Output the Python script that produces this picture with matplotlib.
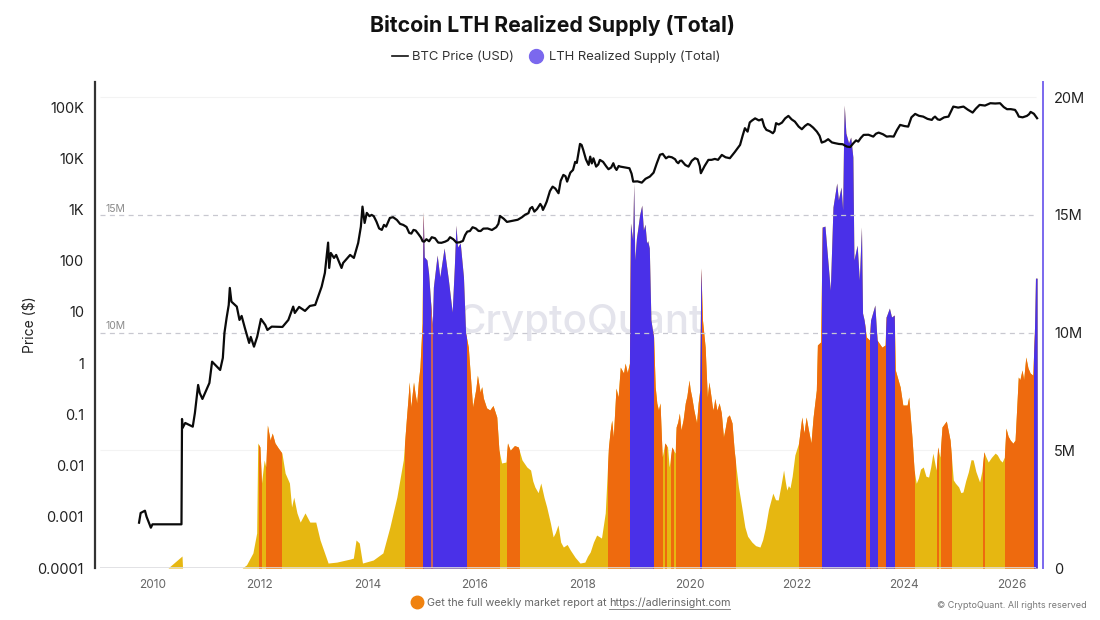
import matplotlib
matplotlib.use("Agg")
import matplotlib.pyplot as plt
from matplotlib.lines import Line2D
from matplotlib.patches import Rectangle
import numpy as np

plt.rcParams['font.family'] = ['Inter', 'DejaVu Sans']

# ---------- data ----------
price_dates = [2009.75,2009.78,2009.86,2009.89,2009.97,2010.00,2010.54,2010.55,2010.56,2010.61,2010.75,2010.79,2010.85,2010.88,2010.93,
2011.06,2011.11,2011.26,2011.31,2011.34,2011.38,2011.42,2011.44,2011.47,2011.57,2011.62,2011.66,2011.72,2011.80,2011.83,2011.89,2011.95,
2012.02,2012.10,2012.14,2012.22,2012.42,2012.53,2012.62,2012.65,2012.73,2012.84,2012.93,2013.03,2013.15,2013.21,2013.27,2013.29,2013.32,
2013.38,2013.42,2013.52,2013.55,2013.68,2013.75,2013.83,2013.88,2013.91,2013.95,2013.99,2014.08,2014.17,2014.27,2014.35,2014.42,2014.55,
2014.67,2014.78,2014.86,2014.95,2015.06,2015.20,2015.32,2015.45,2015.54,2015.66,2015.78,2015.86,2015.96,2016.07,2016.16,2016.40,2016.47,
2016.60,2016.72,2016.88,2017.00,2017.03,2017.11,2017.22,2017.27,2017.34,2017.45,2017.56,2017.65,2017.72,2017.83,2017.90,2017.96,2018.02,
2018.12,2018.15,2018.26,2018.33,2018.49,2018.58,2018.64,2018.71,2018.88,2018.95,2019.11,2019.26,2019.39,2019.50,2019.61,2019.73,2019.79,
2019.85,2019.98,2020.10,2020.21,2020.35,2020.47,2020.60,2020.75,2020.94,2021.03,2021.08,2021.16,2021.35,2021.43,2021.55,2021.61,2021.72,
2021.84,2021.96,2022.09,2022.15,2022.24,2022.37,2022.46,2022.58,2022.71,2022.85,2022.93,2023.05,2023.14,2023.24,2023.42,2023.52,2023.67,
2023.80,2023.92,2024.07,2024.20,2024.35,2024.51,2024.57,2024.66,2024.82,2024.91,2025.10,2025.27,2025.40,2025.60,2025.78,2025.91,2026.06,
2026.13,2026.28,2026.35,2026.47]
price_log10 = [-3.115,-2.926,-2.881,-2.998,-3.213,-3.147,-3.147,-1.090,-1.266,-1.168,-1.240,-0.973,-0.426,-0.582,-0.699,
-0.387,0.029,-0.133,0.102,0.590,0.883,1.137,1.469,1.201,1.104,0.844,0.922,0.688,0.395,0.512,0.322,0.518,
0.863,0.746,0.648,0.713,0.707,0.844,1.104,0.980,1.098,1.020,1.117,1.137,1.494,1.762,2.354,1.859,2.152,
2.055,2.113,1.859,1.957,2.113,2.055,2.348,2.666,3.057,2.738,2.934,2.895,2.764,2.602,2.666,2.836,2.797,
2.699,2.543,2.602,2.523,2.373,2.459,2.354,2.373,2.459,2.354,2.387,2.568,2.654,2.582,2.627,2.654,2.875,
2.758,2.783,2.850,2.928,3.018,2.959,3.109,2.992,3.154,3.447,3.318,3.676,3.545,3.773,3.910,4.281,4.164,
3.871,4.033,3.838,3.969,3.787,3.904,3.773,3.838,3.806,3.545,3.525,3.643,3.904,4.086,4.033,3.982,3.904,
3.955,3.838,4.002,3.709,3.969,3.988,4.066,4.002,4.262,4.588,4.521,4.736,4.764,4.555,4.490,4.686,4.697,
4.828,4.717,4.568,4.633,4.652,4.521,4.307,4.373,4.295,4.275,4.229,4.295,4.326,4.457,4.424,4.502,4.424,
4.424,4.652,4.619,4.867,4.814,4.750,4.814,4.750,4.814,5.010,5.010,4.893,5.043,5.076,5.076,4.959,4.945,
4.814,4.828,4.906,4.783]
# smaller swings of the price line between the points above
price_detail_dates = [2014.04,2014.12,2014.22,2014.31,2014.38,2014.48,2014.61,2014.73,2014.82,2014.90,2015.00,2015.03,2015.10,2015.15,2015.26,2015.38,
2015.50,2015.60,2015.72,2015.82,2015.91,2016.02,2016.11,2016.24,2016.32,2016.44,2016.54,2016.66,2016.80,2016.94,2017.07,2017.16,2017.25,2017.31,
2017.40,2017.50,2017.60,2017.69,2017.78,2017.87,2017.99,2018.07,2018.18,2018.21,2018.30,2018.39,2018.45,2018.54,2018.61,2018.68,2018.80,2018.92,
2019.03,2019.18,2019.33,2019.45,2019.56,2019.67,2019.76,2019.82,2019.92,2020.04,2020.15,2020.19,2020.28,2020.41,2020.53,2020.67,2020.84,2020.99,
2021.12,2021.22,2021.29,2021.39,2021.49,2021.58,2021.66,2021.78,2021.90,2022.03,2022.12,2022.20,2022.30,2022.42,2022.52,2022.65,2022.78,2022.89,
2022.99,2023.10,2023.19,2023.33,2023.47,2023.60,2023.73,2023.86,2024.00,2024.13,2024.27,2024.43,2024.54,2024.62,2024.74,2024.86,2025.00,2025.18,
2025.33,2025.50,2025.69,2025.85,2025.98,2026.10,2026.20,2026.32,2026.41]
price_detail_log10 = [2.87,2.87,2.63,2.70,2.74,2.85,2.72,2.66,2.53,2.59,2.45,2.38,2.42,2.38,2.44,2.35,
2.40,2.42,2.36,2.50,2.58,2.63,2.58,2.63,2.60,2.72,2.82,2.77,2.80,2.90,3.05,3.01,3.06,3.08,
3.36,3.41,3.56,3.65,3.72,3.93,4.26,3.98,3.90,4.00,3.88,3.93,3.84,3.82,3.82,3.85,3.82,3.70,
3.55,3.60,3.72,4.07,4.00,4.02,3.93,3.95,3.87,3.95,3.98,3.85,3.85,3.97,3.97,4.02,4.12,4.45,
4.70,4.78,4.74,4.62,4.53,4.53,4.66,4.78,4.76,4.62,4.60,4.67,4.60,4.44,4.33,4.31,4.28,4.25,
4.22,4.35,4.40,4.46,4.48,4.47,4.43,4.55,4.63,4.80,4.83,4.77,4.79,4.76,4.80,4.90,4.99,4.95,
4.97,5.03,5.07,5.00,4.96,4.88,4.80,4.86,4.87]

supply_dates = [2010.29,2010.55,2010.56,2011.67,2011.75,2011.87,2011.94,2011.96,2012.00,2012.03,2012.08,2012.11,2012.14,2012.19,2012.23,
2012.28,2012.34,2012.41,2012.47,2012.55,2012.59,2012.63,2012.69,2012.75,2012.84,2012.93,2013.04,2013.12,2013.27,2013.43,2013.68,2013.74,
2013.79,2013.85,2013.91,2014.11,2014.29,2014.42,2014.55,2014.67,2014.73,2014.76,2014.78,2014.81,2014.86,2014.92,2014.98,2015.02,2015.04,
2015.06,2015.11,2015.14,2015.21,2015.23,2015.30,2015.35,2015.43,2015.51,2015.58,2015.62,2015.65,2015.68,2015.73,2015.79,2015.83,2015.88,
2015.96,2016.05,2016.10,2016.16,2016.28,2016.41,2016.45,2016.50,2016.58,2016.61,2016.81,2016.88,2016.97,2017.04,2017.12,2017.23,2017.34,
2017.46,2017.55,2017.65,2017.78,2017.96,2018.05,2018.15,2018.27,2018.36,2018.43,2018.49,2018.55,2018.58,2018.63,2018.67,2018.71,2018.77,
2018.80,2018.88,2018.90,2018.94,2018.96,2018.98,2019.04,2019.11,2019.14,2019.20,2019.25,2019.28,2019.33,2019.36,2019.42,2019.45,2019.49,
2019.54,2019.59,2019.62,2019.67,2019.73,2019.75,2019.81,2019.84,2019.92,2019.99,2020.04,2020.13,2020.16,2020.19,2020.21,2020.24,2020.29,
2020.33,2020.40,2020.44,2020.55,2020.63,2020.70,2020.79,2020.83,2020.91,2021.03,2021.16,2021.31,2021.41,2021.55,2021.65,2021.75,2021.81,
2021.87,2021.96,2022.03,2022.09,2022.13,2022.17,2022.26,2022.30,2022.36,2022.38,2022.44,2022.47,2022.52,2022.62,2022.67,2022.74,2022.77,
2022.82,2022.85,2022.87,2022.88,2022.91,2022.96,2023.00,2023.04,2023.06,2023.12,2023.16,2023.20,2023.22,2023.25,2023.29,2023.35,2023.37,
2023.45,2023.49,2023.58,2023.64,2023.66,2023.72,2023.76,2023.81,2023.83,2023.92,2023.97,2024.05,2024.08,2024.14,2024.18,2024.26,2024.35,
2024.45,2024.53,2024.59,2024.62,2024.66,2024.70,2024.78,2024.85,2024.91,2025.01,2025.09,2025.19,2025.28,2025.40,2025.48,2025.56,2025.69,
2025.78,2025.86,2025.89,2025.97,2026.06,2026.12,2026.19,2026.26,2026.34,2026.39,2026.42,2026.44,2026.47,2026.475]
supply_m = [0,0.51,0,0,0.13,0.64,1.49,5.31,5.14,3.61,4.59,4.29,6.07,5.43,5.73,
5.31,5.10,4.88,4.03,3.61,2.59,3.01,2.34,1.95,2.34,1.95,1.95,1.19,0.21,0.25,0.38,0.42,
1.19,1.06,0.21,0.34,0.64,1.74,3.01,4.59,6.41,7.26,7.90,6.84,7.90,7.01,8.53,10.40,15.12,
13.21,13.08,12.53,10.23,11.93,13.29,12.36,13.59,12.23,10.87,12.78,14.56,13.63,13.80,12.36,9.98,9.38,
6.84,8.19,7.47,7.22,6.71,6.41,5.01,4.46,4.50,5.31,5.14,4.59,4.29,4.16,3.44,3.61,2.59,
1.32,1.83,0.89,0.76,0.21,0.25,0.68,1.40,1.27,2.34,5.14,6.28,5.56,7.64,7.26,8.53,8.28,
8.70,8.70,14.65,13.93,16.35,13.08,14.48,15.41,14.35,13.80,13.59,10.53,9.81,7.69,6.71,7.01,4.71,
5.31,5.14,4.29,5.14,4.88,5.99,6.58,5.86,7.01,7.98,7.26,6.16,7.01,7.56,12.74,10.53,9.38,
7.26,7.26,6.71,7.01,5.56,6.41,6.16,5.01,3.44,1.74,1.10,0.89,1.70,3.18,2.89,4.16,3.31,
3.40,4.80,5.31,6.41,5.73,6.41,5.31,6.41,7.56,9.47,9.60,14.48,14.52,11.80,15.33,16.35,15.63,
16.18,15.20,18.60,19.66,18.47,18.05,18.30,17.45,13.08,13.71,12.23,14.48,10.83,10.53,9.81,9.68,10.53,
11.17,9.68,9.38,9.47,10.66,11.04,10.66,10.74,8.41,7.69,6.92,6.92,7.26,5.56,4.16,3.82,4.29,
3.86,4.88,4.16,5.14,4.71,5.99,6.24,5.43,3.74,3.44,3.23,4.08,4.59,3.65,4.93,4.50,4.88,
4.59,4.71,5.94,5.43,5.43,8.11,8.41,8.96,8.28,8.19,9.98,12.31,12.31,0]
# smaller teeth of the area's top edge between the points above
supply_detail_dates = [2014.89,2014.95,2016.02,2016.13,2016.22,2016.34,2016.66,2016.74,2017.08,2017.18,2017.29,2017.41,2017.50,2017.60,2017.72,2017.87,
2018.10,2018.21,2018.52,2018.84,2019.01,2019.07,2019.17,2019.22,2019.39,2019.78,2019.88,2019.95,2020.01,2020.08,2020.36,2020.42,2020.47,2020.51,
2020.59,2020.66,2020.74,2020.87,2020.97,2021.08,2021.23,2021.36,2021.47,2021.60,2021.70,2021.78,2021.84,2021.91,2022.21,2024.22,2024.30,2024.40,
2024.49,2024.95,2025.05,2025.14,2025.24,2025.33,2025.44,2025.52,2025.62,2025.73,2025.82,2025.93,2026.02,2026.15,2026.22,2026.30]
supply_detail_m = [7.4,7.9,7.6,7.7,6.8,6.9,5.0,5.2,3.7,3.2,3.0,1.9,1.5,1.1,1.0,0.45,
0.5,1.1,5.8,8.3,14.0,15.0,14.6,13.9,7.0,6.2,6.3,7.3,7.6,6.7,7.9,6.9,7.2,6.7,
6.6,5.9,6.5,4.2,2.6,1.35,0.95,1.2,2.5,2.9,3.5,3.7,3.5,3.9,5.9,3.6,4.2,3.9,
4.3,3.6,3.2,3.7,4.6,4.1,4.1,4.7,4.7,4.8,4.5,5.6,5.3,8.0,8.0,8.5]

orange_bands = [(2011.98,2012.02),(2012.12,2012.19),(2012.21,2012.39),(2014.70,2015.04),(2015.84,2016.46),(2016.60,2016.82),
                (2018.49,2018.89),(2019.31,2019.48),(2019.54,2019.56),(2019.66,2019.69),(2019.74,2020.84),(2022.03,2022.46),
                (2023.26,2023.36),(2023.49,2023.65),(2023.81,2024.18),(2024.60,2024.62),(2024.68,2024.87),(2025.46,2025.48),
                (2025.87,2026.42)]
blue_bands = [(2015.04,2015.84),(2018.89,2019.31),(2020.20,2020.22),(2022.46,2023.26),(2023.36,2023.49),(2023.65,2023.81),(2026.42,2026.475)]
orange_over_blue = [(2015.19,2015.21)]

price_ticks = [1e-4,1e-3,1e-2,1e-1,1,10,100,1e3,1e4,1e5]
price_labels = ['0.0001','0.001','0.01','0.1','1','10','100','1K','10K','100K']
supply_ticks = [0,5,10,15,20]
supply_labels = ['0','5M','10M','15M','20M']
year_ticks = list(range(2010,2028,2))
year_labels = [str(y) for y in year_ticks]

YELLOW, ORANGE, BLUE, PURPLE = '#E6B711', '#EE6A0E', '#4A30E8', '#7B68EE'
W, H = 1100, 620

# join the main readings and the detail readings in date order
p_x = np.array(price_dates + price_detail_dates)
p_y = np.array(price_log10 + price_detail_log10)
o = np.argsort(p_x, kind='stable'); p_x, p_y = p_x[o], p_y[o]
s_x = np.array(supply_dates + supply_detail_dates)
s_y = np.array(supply_m + supply_detail_m)
o = np.argsort(s_x, kind='stable'); s_x, s_y = s_x[o], s_y[o]

fig = plt.figure(figsize=(11, 6.2), dpi=100, facecolor='white')
axL, axR, axB, axT = 95, 1043, 568, 82
ax = fig.add_axes([axL/W, 1-axB/H, (axR-axL)/W, (axB-axT)/H])
ax2 = ax.twinx()
ax.set_zorder(3); ax2.set_zorder(2); ax.patch.set_visible(False)

ax.set_xlim(2008.93, 2026.58)
ax.set_yscale('log')
ax.set_ylim(1e-4, 10**5.49)
ax2.set_ylim(0, 20.64)

# watermark
fig.text(580/W, 1-322/H, 'CryptoQuant', fontsize=29, color='#E4E4EC', ha='center', va='center',
         fontweight='medium', zorder=0)

# supply area, one clip per colour band
ax2.fill_between(s_x, 0, s_y, color=YELLOW, lw=0, zorder=2)
def bands(lst, colour, z):
    for a, b in lst:
        p = ax2.fill_between(s_x, 0, s_y, color=colour, lw=0, zorder=z)
        p.set_clip_path(Rectangle((a, 0), b-a, 21, transform=ax2.transData))
bands(orange_bands, ORANGE, 3)
bands(blue_bands, BLUE, 4)
bands(orange_over_blue, '#C8605A', 5)

# reference lines
ax2.hlines([5, 20], 2009.02, 2026.45, color='#F3F3F3', lw=0.8, zorder=1)
ax2.hlines([10, 15], 2009.02, 2026.45, color='#C8C8D0', lw=0.9, linestyles=(0, (4, 3.5)), zorder=6)
ax2.hlines(0, 2009.02, 2026.45, color='#DDDDE0', lw=1.2, zorder=6)
ax2.text(2009.12, 10.05, '10M', fontsize=7.5, color='#8A8A8A', va='bottom', ha='left', zorder=7)
ax2.text(2009.12, 15.05, '15M', fontsize=7.5, color='#8A8A8A', va='bottom', ha='left', zorder=7)

# price
ax.plot(p_x, 10**p_y, color='#0A0A0A', lw=1.6, solid_joinstyle='round', zorder=5)

# axes styling
for s in ['top', 'bottom']:
    ax.spines[s].set_visible(False); ax2.spines[s].set_visible(False)
ax.spines['left'].set_color('#333333'); ax.spines['left'].set_linewidth(1.6)
ax.spines['right'].set_visible(False)
ax2.spines['left'].set_visible(False)
ax2.spines['right'].set_color(PURPLE); ax2.spines['right'].set_linewidth(1.4)

ax.set_yticks(price_ticks); ax.set_yticklabels(price_labels, fontsize=10.5, color='#222222')
ax.minorticks_off()
ax.tick_params(axis='y', length=0, pad=8)
ax2.set_yticks(supply_ticks); ax2.set_yticklabels(supply_labels, fontsize=10.5, color='#222222')
ax2.tick_params(axis='y', length=0, pad=8)
ax.set_xticks(year_ticks); ax.set_xticklabels(year_labels, fontsize=8.5, color='#666666')
ax.tick_params(axis='x', length=0, pad=8)
ax.set_ylabel('Price ($)', fontsize=10, color='#222222')
ax.yaxis.set_label_coords((37-axL)/(axR-axL), 0.5)

# title and legend
fig.text(552/W, 1-26/H, 'Bitcoin LTH Realized Supply (Total)', fontsize=15.3, fontweight='bold',
         color='#111111', ha='center', va='center')
handles = [Line2D([], [], color='#111111', lw=1.2),
           Line2D([], [], marker='o', ls='', ms=10, color=PURPLE)]
fig.legend(handles, ['BTC Price (USD)', 'LTH Realized Supply (Total)'], loc='center',
           bbox_to_anchor=(556/W, 1-57/H), ncol=2, frameon=False, fontsize=9.4, labelcolor='#333333',
           handlelength=1.2, handletextpad=0.35, columnspacing=1.1, borderpad=0)

# footer
fig.add_artist(Line2D([417/W], [1-602/H], marker='o', ms=9, color='#F0820F', ls='', transform=fig.transFigure))
fig.text(427/W, 1-603/H, 'Get the full weekly market report at', fontsize=7.75, color='#666666', va='center')
fig.text(609/W, 1-603/H, 'https://adlerinsight.com', fontsize=7.8, color='#666666', va='center')
fig.add_artist(Line2D([609/W, 730/W], [1-609/H, 1-609/H], color='#888888', lw=0.7, transform=fig.transFigure))
fig.text(1087/W, 1-605/H, '© CryptoQuant. All rights reserved', fontsize=6.5, color='#777777', ha='right', va='center')

fig.savefig('out.png', dpi=100, facecolor='white')
